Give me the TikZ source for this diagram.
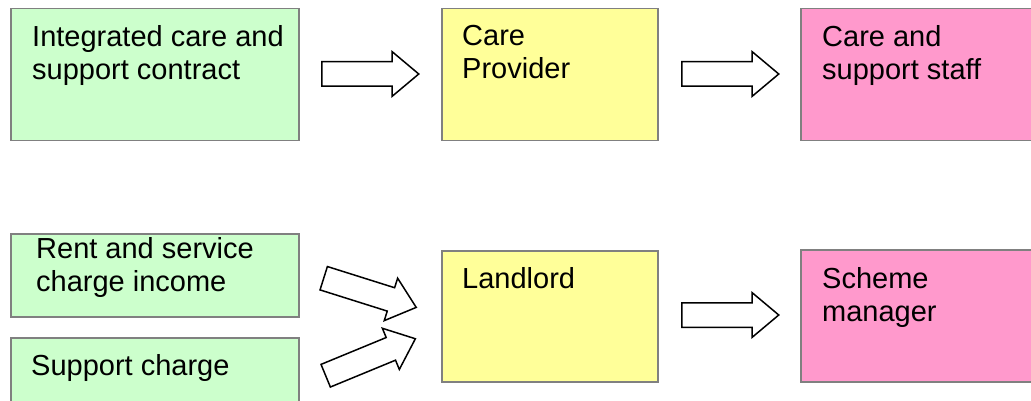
\documentclass[tikz,border=0pt]{standalone}
\usepackage{fontspec}
\setmainfont{Liberation Sans}
\usetikzlibrary{positioning,shapes.arrows}
\definecolor{mint}{HTML}{CCFFCC}
\definecolor{lemon}{HTML}{FFFF99}
\definecolor{rose}{HTML}{FF99CC}
\definecolor{edgegray}{HTML}{808080}

\begin{document}
\begin{tikzpicture}[x=1pt, y=-1pt,
  box/.style={draw=edgegray, line width=1.5pt, anchor=north west, inner sep=0pt},
  txt/.style={anchor=north west, inner sep=0pt, align=left, font=\fontsize{29}{33}\selectfont},
  blockarrow/.style={single arrow, draw, line width=1.5pt, fill=white, inner sep=0pt,
    text height=11.5pt, text depth=11.5pt, minimum height=97pt,
    single arrow head extend=10pt, single arrow tip angle=80, anchor=tail}]

\clip (0,0) rectangle (1031,401);

  % Care row (top)
  \node[box, fill=mint, minimum width=288pt, minimum height=132pt] (contract) at (10,8) {};
  \node[box, fill=lemon, minimum width=216pt, minimum height=132pt] (provider) at (441,8) {};
  \node[box, fill=rose, minimum width=245pt, minimum height=132pt] (staff) at (800,8) {};

  \node[txt] (contracttxt) at (32,25) {Integrated care and\\support contract};
  \node[txt] (providertxt) at (462,25) {Care\\Provider};
  \node[txt] (stafftxt) at (822,25) {Care and\\support staff};

  \node[blockarrow] (a1) at (321,74) {};
  \node[blockarrow] (a2) at (681,74) {};

  % Housing row (bottom)
  \node[box, fill=mint, minimum width=288pt, minimum height=83pt] (rent) at (10,233) {};
  \node[box, fill=mint, minimum width=288pt, minimum height=80pt] (supportcharge) at (10,337) {};
  \node[box, fill=lemon, minimum width=216pt, minimum height=131pt] (landlord) at (441,250) {};
  \node[box, fill=rose, minimum width=245pt, minimum height=132pt] (manager) at (800,249) {};

  \node[txt] (renttxt) at (36,237) {Rent and service\\charge income};
  \node[txt] (supportchargetxt) at (31,354) {Support charge};
  \node[txt] (landlordtxt) at (462,267) {Landlord};
  \node[txt] (managertxt) at (822,267) {Scheme\\manager};

  \node[blockarrow, rotate=-17.5] (a3) at (323,278) {};
  \node[blockarrow, rotate=22.4] (a4) at (325,376) {};
  \node[blockarrow] (a5) at (681,315) {};

\end{tikzpicture}
\end{document}
